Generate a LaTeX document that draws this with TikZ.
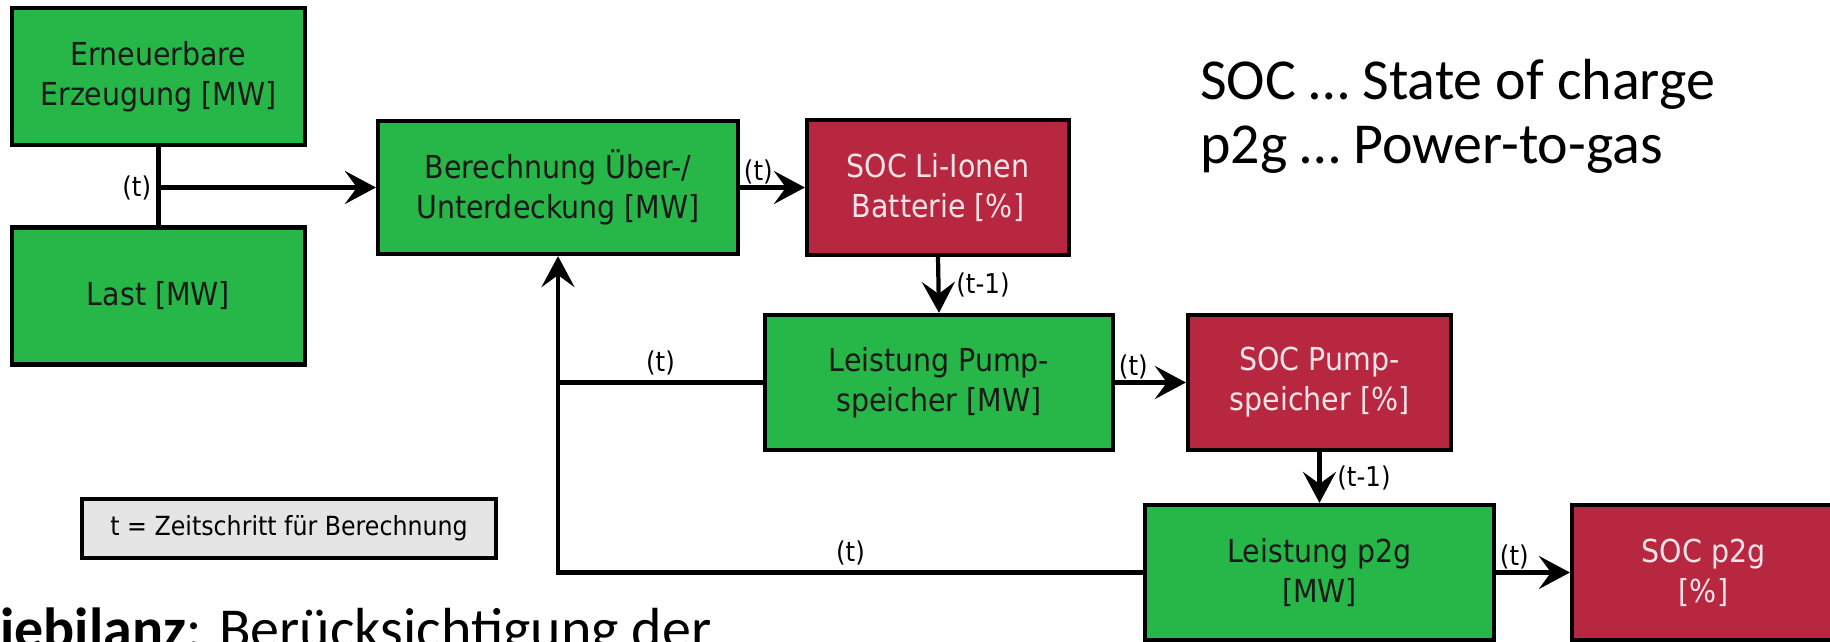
\documentclass[tikz,border=0pt]{standalone}
\usepackage{fontspec}
\setmainfont{DejaVu Sans Condensed}
\newfontfamily\calfont{Carlito}
\usetikzlibrary{arrows.meta,positioning}

\definecolor{boxgreen}{RGB}{39,182,72}
\definecolor{boxred}{RGB}{183,40,64}
\definecolor{legendgray}{RGB}{229,229,229}
\definecolor{palepink}{RGB}{248,228,232}

\begin{document}
\begin{tikzpicture}[x=0.02cm, y=-0.02cm,
    box/.style={draw=black, line width=2.4pt, align=center, inner sep=0pt,
                font=\fontsize{18}{22.8}\selectfont},
    greenbox/.style={box, fill=boxgreen, text=black!90},
    redbox/.style={box, fill=boxred, text=palepink},
    lbl/.style={font=\fontsize{15.5}{18}\selectfont, inner sep=1pt},
    note/.style={anchor=base west, inner sep=0pt, font=\calfont\fontsize{33}{40}\selectfont},
    conn/.style={line width=2.4pt},
    arr/.style={conn, -{Stealth[length=0.62cm, width=0.66cm, inset=0.24cm]}}]

          \useasboundingbox (0,0) rectangle (1830,642);

          \node[greenbox, minimum width=5.86cm, minimum height=2.74cm] (erz) at (158.5,76.5) {Erneuerbare\\Erzeugung [MW]};
          \node[greenbox, minimum width=5.86cm, minimum height=2.74cm] (last) at (158.5,296) {Last [MW]};
          \node[greenbox, minimum width=7.2cm, minimum height=2.66cm] (ber) at (558,187.5) {Berechnung Über-/\\Unterdeckung [MW]};
          \node[redbox, minimum width=5.24cm, minimum height=2.7cm] (socli) at (938,187.5) {SOC Li-Ionen\\Batterie [\%]};
          \node[greenbox, minimum width=6.96cm, minimum height=2.7cm] (pump) at (939,382.5) {Leistung Pump-\\speicher [MW]};
          \node[redbox, minimum width=5.26cm, minimum height=2.7cm] (socpump) at (1319.5,382.5) {SOC Pump-\\speicher [\%]};
          \node[greenbox, minimum width=6.98cm, minimum height=2.7cm] (ptg) at (1319.5,572.5) {Leistung p2g\\{}[MW]};
          \node[redbox, minimum width=5.26cm, minimum height=2.7cm] (socptg) at (1703.5,572.5) {SOC p2g\\{}[\%]};

          \node[draw=black, line width=2.4pt, fill=legendgray, minimum width=8.28cm, minimum height=1.18cm,
                font=\fontsize{15}{17}\selectfont] (legend) at (289,528.5) {t = Zeitschritt für Berechnung};

          % Eingaenge
          \draw[conn] (erz.south) -- (last.north);
          \coordinate (junc) at (erz.south |- ber.west);
          \draw[arr] (junc) -- (ber.west);
          \node[lbl, left=3pt] (tjunc) at (junc) {(t)};

          \draw[arr] (ber.east) -- node[lbl, pos=0, above right] (tber) {(t)} (socli.west);
          \draw[arr] (socli.south) -- node[lbl, right=8pt] (tli) {(t-1)} (pump.north);
          \draw[arr] (pump.east) -- node[lbl, pos=0, above right] (tpump) {(t)} (socpump.west);
          \draw[arr] (socpump.south) -- node[lbl, right=8pt] (tsocpump) {(t-1)} (ptg.north);
          \draw[arr] (ptg.east) -- node[lbl, pos=0, above right] (tptg) {(t)} (socptg.west);

          % Rueckfuehrung
          \draw[conn] (pump.west) -- node[lbl, above=2pt] (tback) {(t)} (pump.west -| ber.south);
          \draw[arr] (ptg.west) -- node[lbl, above=2pt] (tbackptg) {(t)} (ptg.west -| ber.south) -- (ber.south);

          \node[note] (socnote) at (1200,100) {SOC … State of charge};
          \node[note] (ptgnote) at (1200,164) {p2g … Power-to-gas};
          \node[note] (bilanz) at (0,648) {\textbf{iebilanz}: Berücksichtigung der};

        \end{tikzpicture}
\end{document}
